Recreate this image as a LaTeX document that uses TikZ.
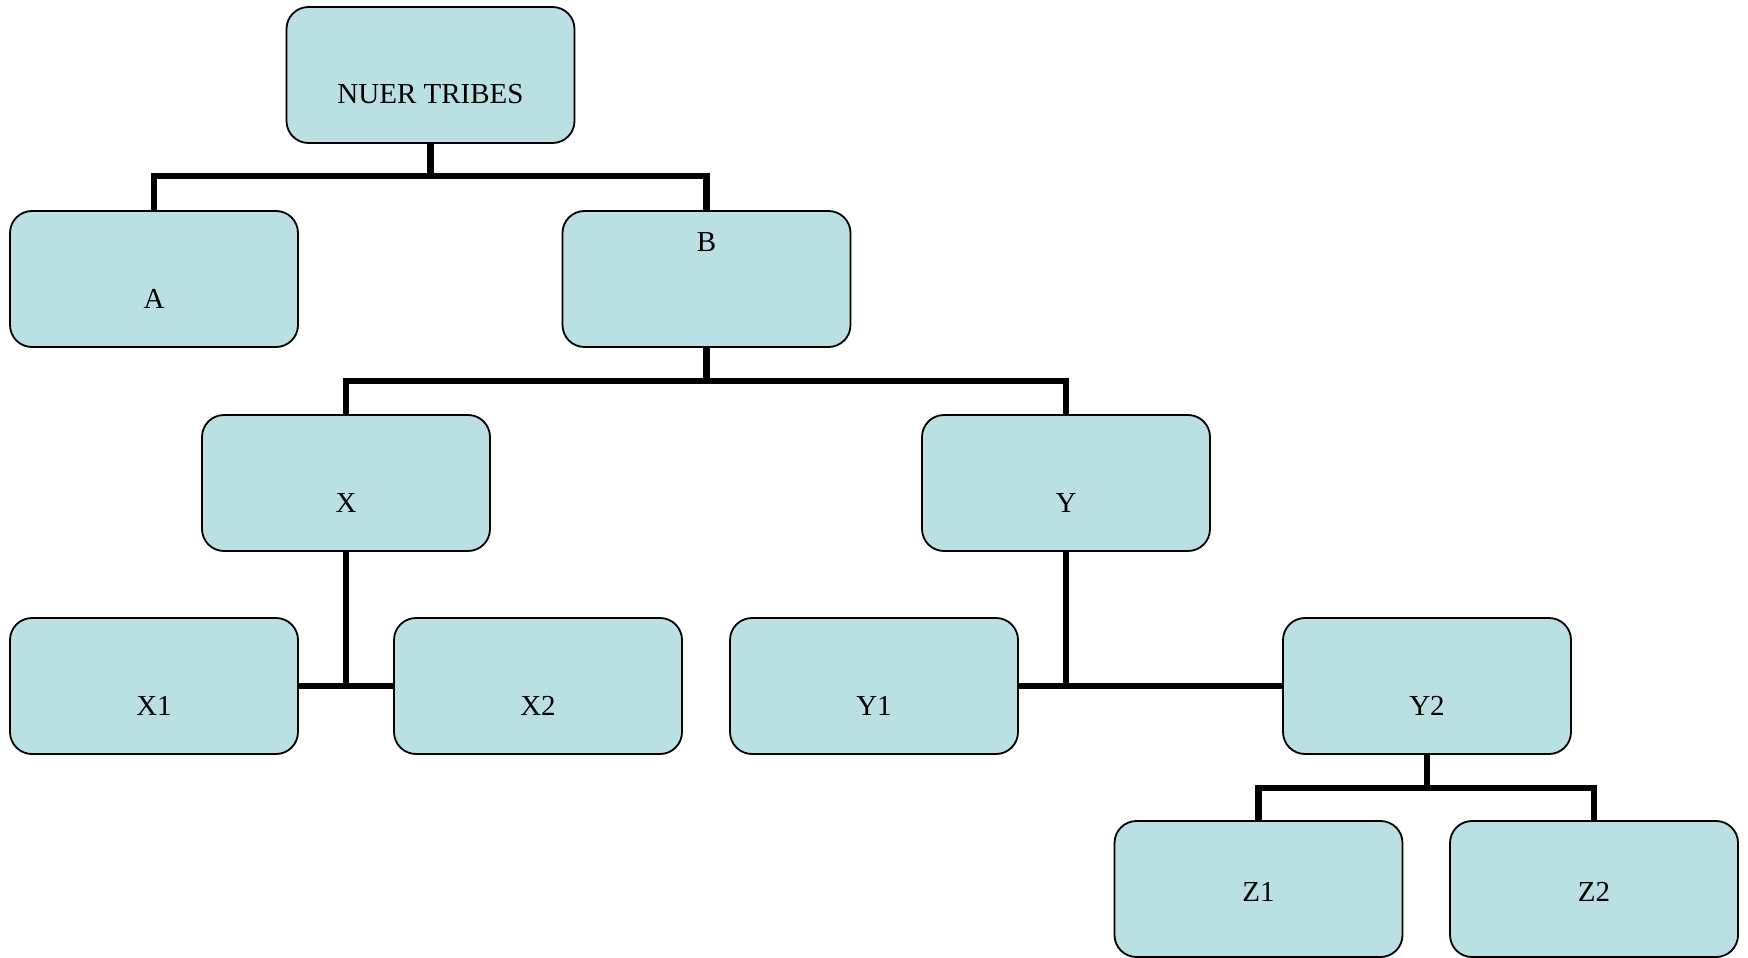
\documentclass[tikz,border=0pt]{standalone}
\usepackage{fontspec}
\setmainfont{Liberation Serif}
\definecolor{tribefill}{RGB}{186,224,227}
\tikzset{
  tribe/.style={draw=black, line width=0.9pt, fill=tribefill, rounded corners=11pt,
    minimum width=144pt, minimum height=68pt, inner sep=0pt},
  lbl/.style={anchor=base, inner sep=0pt, font=\fontsize{14.5}{17}\selectfont},
  link/.style={line width=3.4pt},
}
\begin{document}
\begin{tikzpicture}[x=0.5pt,y=-0.5pt]
    \useasboundingbox (0,0) rectangle (1748,957);
    \def\tribes{nuer/430.5/75/104/NUER TRIBES, a/154/279/308/A, b/706.5/279/251/B, x/346/483/512/X, y/1066/483/512/Y, x1/154/686/715/X1, x2/538/686/715/X2, y1/874/686/715/Y1, y2/1427/686/715/Y2, z1/1258.5/889/901/Z1, z2/1594/889/901/Z2}
    %        name / x / y / text baseline / text
    \foreach \n/\x/\y/\b/\t in \tribes {\node[tribe] (\n) at (\x,\y) {}; \node[lbl] (t\n) at (\x,\b) {\t};}
    \coordinate (bus1) at (430.5,176);
    \coordinate (bus2) at (706.5,381);
    \coordinate (bus3) at (1427,788);
    \draw[link] (nuer.south) -- (bus1);
    \draw[link] (a.north) |- (bus1) -| (b.north);
    \draw[link] (b.south) -- (bus2);
    \draw[link] (x.north) |- (bus2) -| (y.north);
    \draw[link] (x.south) -- (x.south |- x1.east);
    \draw[link] (x1.east) -- (x2.west);
    \draw[link] (y.south) -- (y.south |- y1.east);
    \draw[link] (y1.east) -- (y2.west);
    \draw[link] (y2.south) -- (bus3);
    \draw[link] (z1.north) |- (bus3) -| (z2.north);
  \end{tikzpicture}
\end{document}
